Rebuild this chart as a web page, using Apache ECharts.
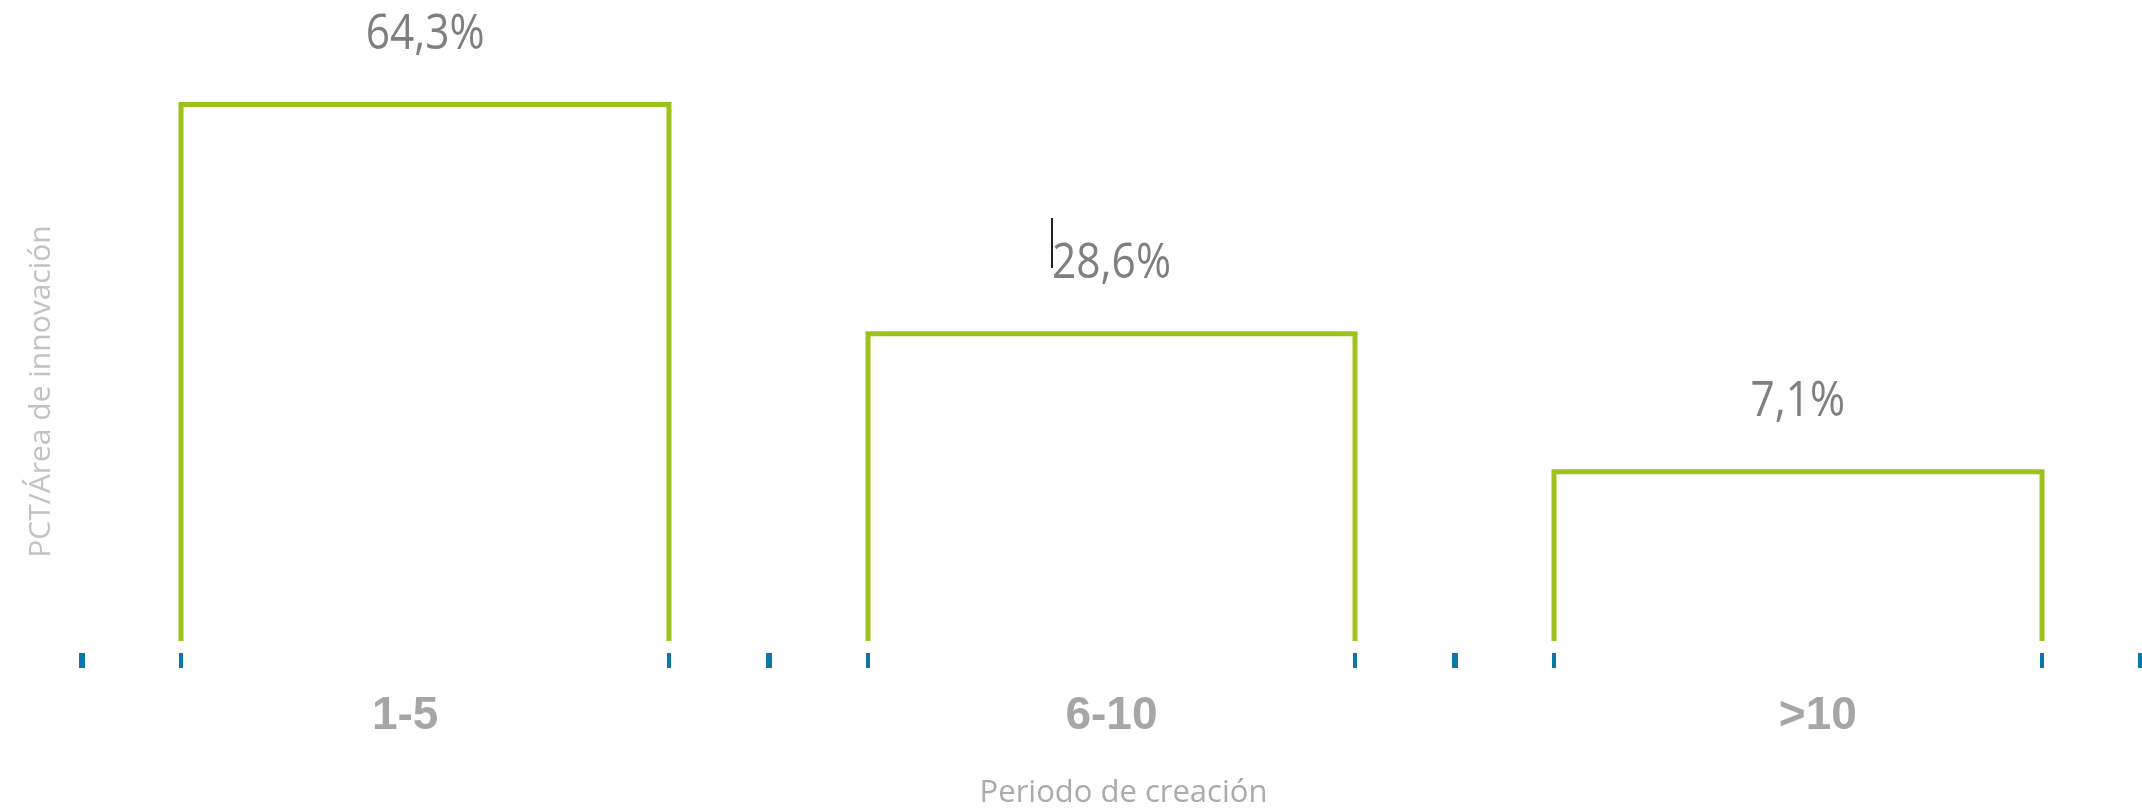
<!DOCTYPE html>
<html>
<head>
<meta charset="utf-8">
<script src="https://cdn.jsdelivr.net/npm/echarts@6/dist/echarts.min.js"></script>
<style>
  html, body { margin: 0; padding: 0; background: #ffffff; }
  #chart { width: 2142px; height: 809px; }
</style>
</head>
<body>
<div id="chart"></div>
<script>
// Share of PCT applications per innovation area, by company age
const categories = ['1-5', '6-10', '>10'];
const shares = [64.3, 28.6, 7.1];

// Value scale (the y axis itself is hidden; only its title is drawn)
const Y_MIN = -19.25;
const Y_MAX = 70;
const BAR_RATIO = 0.711;

const GREEN = '#9cc31c';
const BLUE = '#0a78aa';

function fmtPct(v) {
  return v.toFixed(1).replace('.', ',') + '%';
}

const labelStyle = {
  color: '#a6a6a6',
  fontFamily: 'Liberation Sans',
  fontWeight: 'bold',
  fontSize: 46
};

const chart = echarts.init(document.getElementById('chart'), null, { renderer: 'canvas' });

chart.setOption({
  backgroundColor: '#ffffff',
  animation: false,
  // fixed plot rectangle; axis texts may sit in the margins
  grid: { left: 82, right: 1, top: 68, bottom: 168, containLabel: false, outerBoundsMode: 'none' },
  xAxis: {
    type: 'category',
    data: categories,
    offset: 12,
    axisLine: { show: false, onZero: false },
    axisTick: { show: true, length: 15, lineStyle: { color: BLUE, width: 6 } },
    axisLabel: Object.assign({
      margin: 40,
      // first and last labels sit slightly outward from the band centre
      formatter(value, index) {
        const key = index === 0 ? 'first' : (index === categories.length - 1 ? 'last' : 'mid');
        return '{' + key + '|' + value + '}';
      },
      rich: {
        first: Object.assign({ padding: [0, 40, 0, 0] }, labelStyle),
        mid: Object.assign({}, labelStyle),
        last: Object.assign({ padding: [0, 0, 0, 40] }, labelStyle)
      }
    }, labelStyle),
    name: 'Periodo de creación',
    nameLocation: 'middle',
    nameGap: 125,
    nameTextStyle: {
      color: '#ababab', fontFamily: 'Open Sans', fontSize: 31,
      padding: [0, 0, 0, 24]
    }
  },
  yAxis: {
    type: 'value',
    min: Y_MIN,
    max: Y_MAX,
    axisLine: { show: false },
    axisTick: { show: false },
    axisLabel: { show: false },
    splitLine: { show: false },
    name: 'PCT/Área de innovación',
    nameLocation: 'middle',
    nameRotate: 90,
    nameGap: 26,
    nameTextStyle: {
      color: '#c2c2c2', fontFamily: 'Open Sans', fontSize: 30,
      padding: [0, 74, 0, 0]
    }
  },
  series: [{
    type: 'custom',
    data: shares.map((v, i) => [i, v]),
    encode: { x: 0, y: 1 },
    renderItem(params, api) {
      const idx = api.value(0);
      const v = api.value(1);
      const top = api.coord([idx, v]);
      const base = api.coord([idx, Y_MIN]);
      const w = api.size([1, 0])[0] * BAR_RATIO;
      const l = Math.round(top[0] - w / 2);
      const r = Math.round(top[0] + w / 2);
      const tickTop = base[1] + 12;
      return {
        type: 'group',
        children: [
          {
            type: 'polyline',
            shape: { points: [[l, base[1]], [l, top[1]], [r, top[1]], [r, base[1]]] },
            style: { stroke: GREEN, lineWidth: 5, fill: null, lineJoin: 'miter' }
          },
          { type: 'rect', shape: { x: l - 2, y: tickTop, width: 4, height: 15 }, style: { fill: BLUE } },
          { type: 'rect', shape: { x: r - 2, y: tickTop, width: 4, height: 15 }, style: { fill: BLUE } },
          {
            // value label, set in a narrow cut
            type: 'text',
            x: top[0],
            y: top[1] - 70,
            scaleX: 0.85,
            style: {
              text: fmtPct(v),
              x: 0,
              y: 0,
              align: 'center',
              verticalAlign: 'middle',
              fill: '#7f7f7f',
              font: '50px "Open Sans"'
            }
          }
        ]
      };
    }
  }],
  graphic: [{
    // text caret just left of the middle label
    type: 'line',
    shape: { x1: 1052, y1: 218, x2: 1052, y2: 268 },
    style: { stroke: '#222222', lineWidth: 2 }
  }]
});
</script>
</body>
</html>
